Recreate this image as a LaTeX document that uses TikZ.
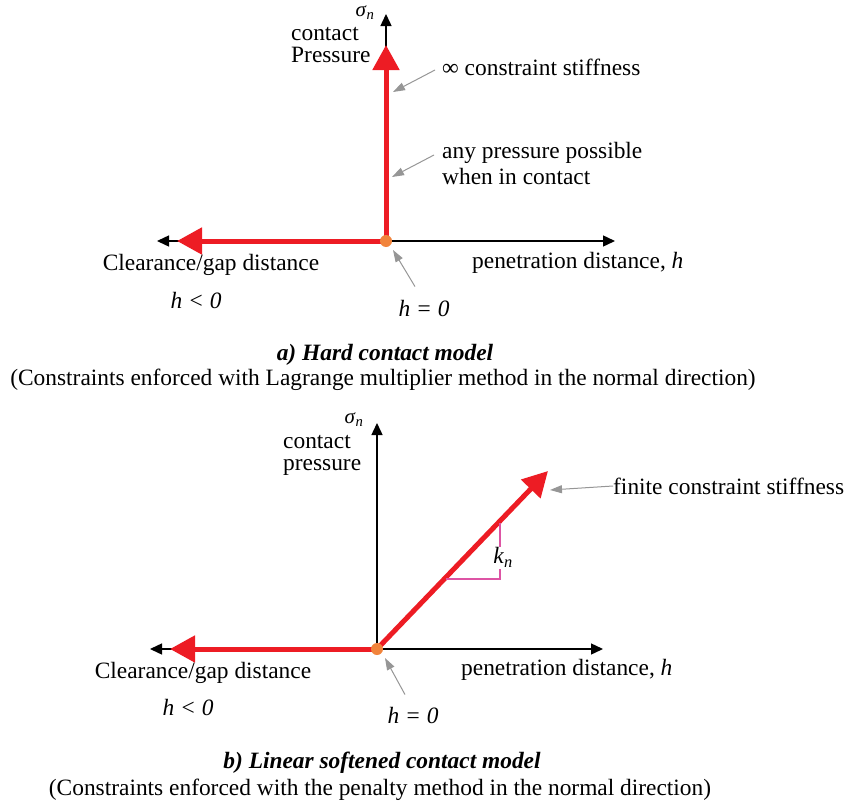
\documentclass[tikz,border=0pt]{standalone}
\usepackage{fontspec}
\setmainfont{Liberation Serif}
\usetikzlibrary{arrows.meta}

\definecolor{lawred}{RGB}{237,28,36}
\definecolor{dotorange}{RGB}{241,132,60}
\definecolor{slopepink}{RGB}{221,84,164}
\definecolor{pointergray}{RGB}{150,150,150}

\tikzset{
  axis/.style={line width=1.4pt, {Triangle[length=12pt,width=11pt]}-{Triangle[length=12pt,width=11pt]}},
  yaxis/.style={line width=1.4pt, -{Triangle[length=12pt,width=11pt]}},
  law/.style={draw=lawred, line width=5pt, -{Triangle[length=25pt,width=26pt]}},
  pointer/.style={draw=pointergray, line width=1pt, -{Triangle[length=12pt,width=8pt]}},
  slope/.style={draw=slopepink, line width=1.3pt},
  lbl/.style={font=\fontsize{23.4}{22}\selectfont, inner sep=0pt},
  sig/.style={font=\fontsize{21}{22}\selectfont, inner sep=0pt},
}

\begin{document}
\begin{tikzpicture}[x=1pt,y=-1pt]
  \useasboundingbox (0,0) rectangle (847,803);

  % a) hard contact
  \coordinate (Oa) at (386,241);
  \coordinate (xla) at (157,241);
  \coordinate (xra) at (615,241);
  \coordinate (yta) at (386,14);
  \draw[axis] (xla) -- (xra);
  \draw[yaxis] (Oa) -- (yta);
  \draw[law] (Oa) -- (386,45);
  \draw[law] (Oa) -- (177,241);
  \fill[dotorange] (Oa) circle (6);

  \node[sig] (siga) at (365,13) {\textit{σ}\textsubscript{\textit{n}}};
  \node[lbl, anchor=west, align=left] (presa) at (291,45) {contact\\Pressure};
  \node[lbl, anchor=west] (stiffa) at (442,67) {∞ constraint stiffness};
  \node[lbl, anchor=west, align=left, font=\fontsize{23.4}{26}\selectfont] (anya) at (442,163) {any pressure possible\\when in contact};
  \node[lbl] (gapa) at (211,265) {Clearance/gap distance};
  \node[lbl] (nega) at (196,300) {\textit{h < 0}};
  \node[lbl] (zeroa) at (424,308) {\textit{h = 0}};
  \node[lbl, anchor=west] (pena) at (472,263) {penetration distance, \textit{h}};
  \coordinate (ta1) at (393,92);
  \coordinate (ta2) at (392,177);
  \coordinate (ta3) at (393,250);
  \draw[pointer] ([shift={(-7,3)}]stiffa.west) -- (ta1);
  \draw[pointer] ([shift={(-8,-8)}]anya.west) -- (ta2);
  \draw[pointer] ([shift={(-9,-13)}]zeroa.north) -- (ta3);

  \node[lbl] (capa) at (385,355) {\textbf{\textit{a) Hard contact model}}};
  \node[lbl] (suba) at (383,380) {(Constraints enforced with Lagrange multiplier method in the normal direction)};

  % b) linear softened contact
  \coordinate (Ob) at (377,649);
  \coordinate (xlb) at (150,649);
  \coordinate (xrb) at (603,649);
  \coordinate (ytb) at (377,423);
  \draw[axis] (xlb) -- (xrb);
  \draw[yaxis] (Ob) -- (ytb);
  \draw[law] (Ob) -- (548,471);
  \draw[law] (Ob) -- (170,649);
  \fill[dotorange] (Ob) circle (6);
  \coordinate (s1) at (446,579);
  \coordinate (s2) at (500,579);
  \coordinate (s3) at (500,523);
  \draw[slope] (s1) -- (s2) -- node[lbl, fill=white, inner sep=1pt, pos=0.38, xshift=3pt] (kn) {\textit{k}\textsubscript{\textit{n}}} (s3);

  \node[sig] (sigb) at (354,420) {\textit{σ}\textsubscript{\textit{n}}};
  \node[lbl, anchor=west, align=left] (presb) at (283,455) {contact\\pressure};
  \node[lbl, anchor=west] (stiffb) at (613,486) {finite constraint stiffness};
  \node[lbl] (gapb) at (203,673) {Clearance/gap distance};
  \node[lbl] (negb) at (188,707) {\textit{h < 0}};
  \node[lbl] (zerob) at (413,715) {\textit{h = 0}};
  \node[lbl, anchor=west] (penb) at (461,670) {penetration distance, \textit{h}};
  \coordinate (tb1) at (550,490);
  \coordinate (tb2) at (385,658);
  \draw[pointer] (stiffb.west) -- (tb1);
  \draw[pointer] ([shift={(-8,-12)}]zerob.north) -- (tb2);

  \node[lbl] (capb) at (382,763) {\textbf{\textit{b) Linear softened contact model}}};
  \node[lbl] (subb) at (380,790) {(Constraints enforced with the penalty method in the normal direction)};
\end{tikzpicture}
\end{document}
